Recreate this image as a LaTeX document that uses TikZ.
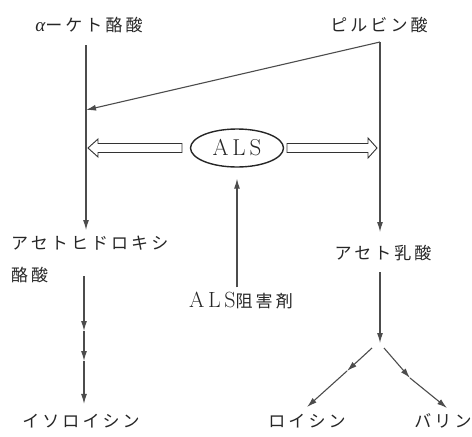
\documentclass[tikz,border=0pt]{standalone}
\usepackage{fontspec}
\newfontfamily\jp{Noto Sans CJK JP}[LetterSpace=18]
\newfontfamily\grk{Liberation Serif}
\usetikzlibrary{arrows.meta,shapes.geometric}

\begin{document}
\begin{tikzpicture}[x=1pt,y=-1pt,
  every node/.style={inner sep=0pt,text=black!85},
  lbl/.style={font=\fontsize{17}{32}\selectfont\jp},
  enz/.style={ellipse,draw=black!85,line width=1.4pt,minimum width=93pt,minimum height=38pt,font=\fontsize{23}{26}\selectfont\rmfamily},
  arr/.style={-{Latex[length=10pt,width=6pt]},black!70,line width=1.1pt},
  hollow/.style={draw=black!80,line width=0.9pt,fill=white,line join=miter},
]
\useasboundingbox (0,0) rectangle (472,437);

% Substrates
\node[lbl] (keto) at (89,25) {{\grk\itshape\fontsize{19}{20}\selectfont α}ーケト酪酸};
\node[lbl] (pyr) at (379,25) {ピルビン酸};
\coordinate (ktop) at (86,45);
\coordinate (ptop) at (380,42);
\coordinate (kmeet) at (86,110);
\coordinate (kend) at (86,230);
\coordinate (pend) at (380,232);

% Enzyme
\node[enz] (als) at (237,148) {A\,L\,S};
\coordinate (lgoal) at (88,148);
\coordinate (rgoal) at (377,148);
\node[lbl] (inh) at (241,300) {{\fontsize{22}{24}\selectfont\rmfamily A\,L\,S}阻害剤};

% Intermediates
\node[lbl,align=left,anchor=north west] (ahb) at (11,236) {アセトヒドロキシ\\酪酸};
\node[lbl] (acl) at (383,253) {アセト乳酸};

% Products
\node[lbl] (iso) at (81,421) {イソロイシン};
\node[lbl] (leu) at (307,421) {ロイシン};
\node[lbl] (val) at (443,421) {バリン};
\coordinate (lstart) at (84,276);
\coordinate (l1) at (84,331);
\coordinate (l2) at (84,361);
\coordinate (rstart) at (380,272);
\coordinate (rfork) at (380,343);
\coordinate (bl0) at (372,348);
\coordinate (bl1) at (347,371);
\coordinate (lend) at (307,407);
\coordinate (br0) at (384,348);
\coordinate (br1) at (410,378);
\coordinate (vend) at (447,408);

% Arrows
\draw[arr] (ktop) -- (kend);
\draw[arr] (ptop) -- (kmeet);
\draw[arr] (ptop) -- (pend);
\draw[hollow] (lgoal) -- ++(10,-9) -- ++(0,4.5) -- ++(84,0) -- ++(0,9) -- ++(-84,0) -- ++(0,4.5) -- cycle;
\draw[hollow] (rgoal) -- ++(-9,-10) -- ++(0,5.5) -- ++(-81,0) -- ++(0,9) -- ++(81,0) -- ++(0,5.5) -- cycle;
\draw[arr,shorten <=4pt,shorten >=11pt] (als.south |- inh.north) -- (als.south);
\draw[arr] (lstart) -- (l1);
\draw[arr] (l1) -- (l2);
\draw[arr,shorten >=10pt] (l2) -- (l2 |- iso.north);
\draw[arr] (rstart) -- (rfork);
\draw[arr] (bl0) -- (bl1);
\draw[arr] (bl1) -- (lend);
\draw[arr] (br0) -- (br1);
\draw[arr] (br1) -- (vend);
\end{tikzpicture}
\end{document}
